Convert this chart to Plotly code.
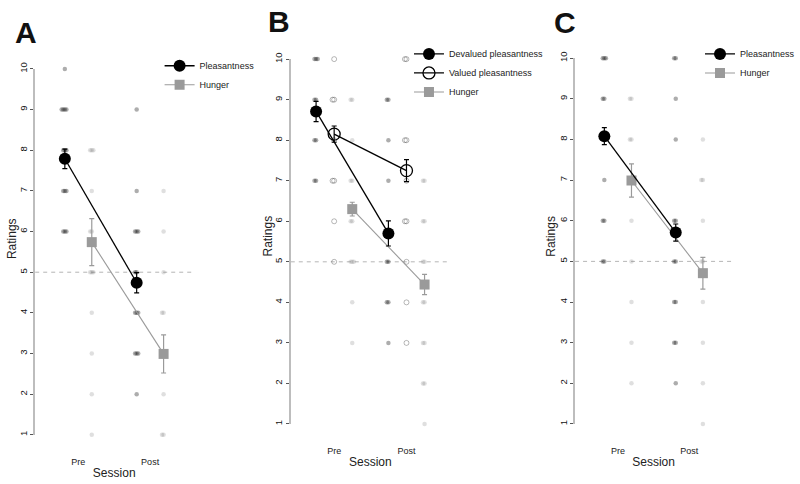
import plotly.graph_objects as go

W, H = 800, 484
sessions = ["Pre", "Post"]
session_x = [1, 2]

# ---------------- Panel A ----------------
a_pleas_mean = [7.79, 4.74]
a_pleas_se = [0.24, 0.25]
a_hunger_mean = [5.74, 2.99]
a_hunger_se = [0.58, 0.47]
a_pleas_pre = [10, 9, 9, 9, 9, 8, 8, 8, 7, 7, 7, 6, 6, 6]
a_pleas_post = [9, 7, 6, 6, 6, 5, 5, 4, 4, 4, 3, 3, 3, 2]
a_hunger_pre = [8, 8, 8, 7, 6, 6, 5, 5, 5, 4, 3, 2, 1]
a_hunger_post = [7, 6, 5, 4, 4, 3, 3, 2, 1, 1]

# ---------------- Panel B ----------------
b_dev_mean = [8.71, 5.70]
b_dev_se = [0.25, 0.31]
b_val_mean = [8.15, 7.25]
b_val_se = [0.2, 0.27]
b_hunger_mean = [6.30, 4.44]
b_hunger_se = [0.17, 0.25]
b_dev_pre = [10, 10, 10, 9, 9, 8, 8, 7, 7]
b_dev_post = [9, 9, 8, 7, 5, 5, 4, 4, 3]
b_val_pre = [10, 9, 9, 8, 7, 7, 6, 5]
b_val_post = [10, 10, 8, 8, 7, 6, 6, 5, 4, 3]
b_hunger_pre = [9, 9, 8, 7, 7, 6, 6, 5, 5, 5, 4, 3]
b_hunger_post = [7, 7, 6, 6, 5, 5, 4, 4, 3, 3, 2, 2, 1]

# ---------------- Panel C ----------------
c_pleas_mean = [8.08, 5.71]
c_pleas_se = [0.21, 0.21]
c_hunger_mean = [6.99, 4.71]
c_hunger_se = [0.41, 0.39]
c_pleas_pre = [10, 10, 10, 9, 9, 7, 6, 6, 5, 5]
c_pleas_post = [10, 10, 9, 8, 6, 6, 5, 5, 4, 4, 3, 3, 2]
c_hunger_pre = [9, 9, 8, 8, 6, 5, 4, 3, 2]
c_hunger_post = [8, 7, 7, 6, 5, 5, 4, 3, 2, 1]

FONT = "Liberation Sans, Arial, Helvetica, sans-serif"
DARK = "#000000"
GREY = "#9a9a9a"
DOT_DARK = "rgba(0,0,0,0.32)"
DOT_GREY = "rgba(110,110,110,0.22)"

JIT = [0.0, -0.022, 0.022, -0.044, 0.044, -0.066, 0.066]


def jitter(vals, base):
    seen = {}
    xs = []
    for v in vals:
        k = seen.get(v, 0)
        seen[v] = k + 1
        xs.append(base + JIT[k % len(JIT)])
    return xs


fig = go.Figure()


def add_dots(vals_pre, vals_post, offset, color, xa, ya, open_=False):
    xs = jitter(vals_pre, session_x[0] + offset) + jitter(vals_post, session_x[1] + offset)
    ys = list(vals_pre) + list(vals_post)
    if open_:
        marker = dict(symbol="circle-open", size=5, color=color, line=dict(width=1, color=color))
    else:
        marker = dict(symbol="circle", size=4.5, color=color, line=dict(width=0))
    fig.add_trace(go.Scatter(x=xs, y=ys, mode="markers", marker=marker, xaxis=xa, yaxis=ya,
                             showlegend=False, hoverinfo="skip", cliponaxis=False))


def add_mean(means, se, offset, name, color, symbol, size, xa, ya, legend, lw=1.3):
    open_ = symbol.endswith("-open")
    fig.add_trace(go.Scatter(
        x=[s + offset for s in session_x], y=means, mode="lines+markers", name=name,
        line=dict(color=color, width=lw),
        marker=dict(symbol=symbol, size=size, color=color,
                    line=dict(color=color, width=1.3 if open_ else 0)),
        error_y=dict(type="data", array=se, color=color, thickness=1.2, width=2.5),
        xaxis=xa, yaxis=ya, legend=legend, cliponaxis=False))


# Panel A
A_OFF = 0.1875
add_dots(a_pleas_pre, a_pleas_post, -A_OFF, DOT_DARK, "x", "y")
add_dots(a_hunger_pre, a_hunger_post, A_OFF, DOT_GREY, "x", "y")
add_mean(a_hunger_mean, a_hunger_se, A_OFF, "Hunger", GREY, "square", 10, "x", "y", "legend", lw=1.1)
add_mean(a_pleas_mean, a_pleas_se, -A_OFF, "Pleasantness", DARK, "circle", 12, "x", "y", "legend")

# Panel B
B_OFF = 0.25
add_dots(b_dev_pre, b_dev_post, -B_OFF, DOT_DARK, "x2", "y2")
add_dots(b_val_pre, b_val_post, 0.0, "rgba(0,0,0,0.28)", "x2", "y2", open_=True)
add_dots(b_hunger_pre, b_hunger_post, B_OFF, DOT_GREY, "x2", "y2")
add_mean(b_hunger_mean, b_hunger_se, B_OFF, "Hunger", GREY, "square", 10, "x2", "y2", "legend2", lw=1.1)
add_mean(b_val_mean, b_val_se, 0.0, "Valued pleasantness", DARK, "circle-open", 12, "x2", "y2", "legend2")
add_mean(b_dev_mean, b_dev_se, -B_OFF, "Devalued pleasantness", DARK, "circle", 12, "x2", "y2", "legend2")

# Panel C
C_OFF = 0.19
add_dots(c_pleas_pre, c_pleas_post, -C_OFF, DOT_DARK, "x3", "y3")
add_dots(c_hunger_pre, c_hunger_post, C_OFF, DOT_GREY, "x3", "y3")
add_mean(c_hunger_mean, c_hunger_se, C_OFF, "Hunger", GREY, "square", 10, "x3", "y3", "legend3", lw=1.1)
add_mean(c_pleas_mean, c_pleas_se, -C_OFF, "Pleasantness", DARK, "circle", 12, "x3", "y3", "legend3")

# panel geometry in pixels: (x_left, x_right, y_top, y_bottom)
panels = {
    "": (35.3, 193.7, 63, 435),
    "2": (291.5, 451.0, 53, 424),
    "3": (576.5, 734.0, 52, 424),
}

layout = dict(width=W, height=H, margin=dict(l=0, r=0, t=0, b=0),
              plot_bgcolor="white", paper_bgcolor="white",
              font=dict(family=FONT, color="#222"))

for k, (x0, x1, yt, yb) in panels.items():
    layout["xaxis" + k] = dict(
        domain=[x0 / W, x1 / W], range=[0.4, 2.6], anchor="y" + k,
        tickvals=session_x, ticktext=sessions, showline=False, ticks="",
        showgrid=False, zeroline=False, tickfont=dict(size=9, color="#222"),
        ticklabelstandoff=20,
        title=dict(text="Session", font=dict(size=12, color="#222"), standoff=2))
    layout["yaxis" + k] = dict(
        domain=[(H - yb) / H, (H - yt) / H], range=[1, 10], anchor="x" + k,
        tickvals=list(range(1, 11)), tickangle=-90, showline=True, linecolor="#bdbdbd",
        linewidth=1.5, ticks="outside", ticklen=3, tickcolor="#555",
        showgrid=False, zeroline=False, tickfont=dict(size=9.5, color="#111"))

leg_common = dict(xanchor="left", yanchor="top", font=dict(size=9, color="#222"),
                  bgcolor="rgba(0,0,0,0)", traceorder="reversed")
layout["legend"] = dict(x=160 / W, y=(H - 45) / H, **leg_common)
layout["legend2"] = dict(x=410 / W, y=(H - 33) / H, **leg_common)
layout["legend3"] = dict(x=702 / W, y=(H - 33) / H, **leg_common)

fig.update_layout(**layout)

# dashed reference line at rating 5
for k in ["", "2", "3"]:
    fig.add_shape(type="line", xref=("x" + k if k else "x") + " domain", yref="y" + k,
                  x0=0, x1=1, y0=5, y1=5, layer="below",
                  line=dict(color="#b5b5b5", width=1, dash="4px,4px"))

# panel letters and y titles
letters = [("A", 26, 26), ("B", 280, 15), ("C", 566, 16)]
for t, px, py in letters:
    fig.add_annotation(text="<b>%s</b>" % t, x=px / W, y=(H - py) / H, xref="paper", yref="paper",
                       showarrow=False, font=dict(size=30, family=FONT, color="#111"),
                       xanchor="center", yanchor="middle")
for px, py in [(12, 235), (269, 233), (553, 233)]:
    fig.add_annotation(text="Ratings", x=px / W, y=(H - py) / H, xref="paper", yref="paper",
                       showarrow=False, textangle=-90, font=dict(size=12, color="#222"),
                       xanchor="center", yanchor="middle")

fig.write_html("out.html", config={"displayModeBar": False},
               post_script="document.body.style.margin='0';")
